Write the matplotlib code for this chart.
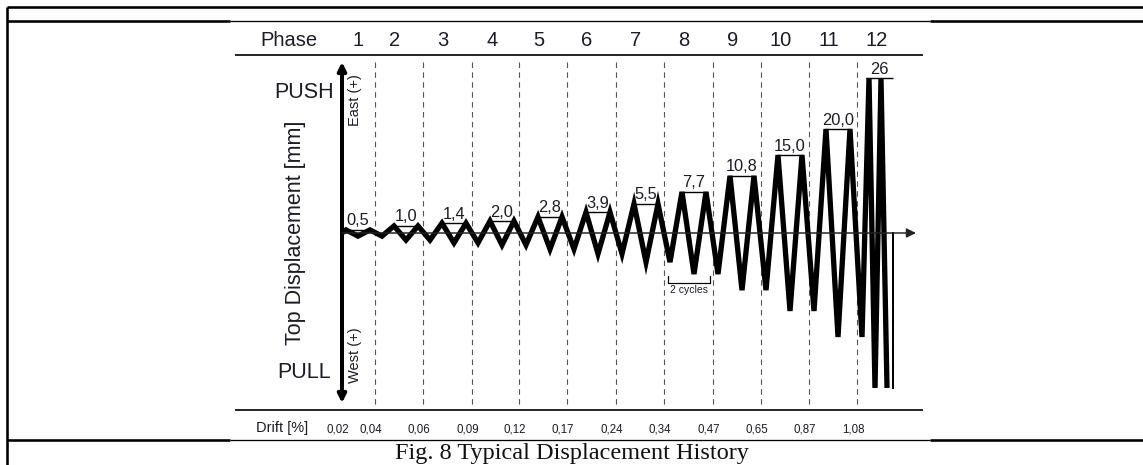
import matplotlib
matplotlib.use("Agg")
import matplotlib.pyplot as plt
import numpy as np

# ---------------- data ----------------
phases = ['1', '2', '3', '4', '5', '6', '7', '8', '9', '10', '11', '12']
amp_labels = ['0,5', '1,0', '1,4', '2,0', '2,8', '3,9', '5,5', '7,7', '10,8', '15,0', '20,0', '26']
# peak amplitudes as drawn in the (not-to-scale) sketch, in mm
drawn_amp = [0.6, 1.35, 1.9, 2.3, 3.1, 4.0, 5.6, 7.9, 11.0, 15.0, 20.0, 29.8]
drift = ['0,02', '0,04', '0,06', '0,09', '0,12', '0,17', '0,24', '0,34', '0,47', '0,65', '0,87', '1,08']

# ---------------- layout (pixel space) ----------------
W, H = 1143, 465
PX = 0.72  # points per pixel at dpi 100
fig = plt.figure(figsize=(W / 100, H / 100), dpi=100)
ax = fig.add_axes([0, 0, 1, 1])
ax.set_xlim(0, W)
ax.set_ylim(H, 0)
ax.axis('off')

SANS = 'Liberation Sans'
SERIF = 'Liberation Serif'
TXT = '#1c1c24'

y0 = 233          # zero displacement line
scale = 5.2       # px per mm
x_axis = 342
bounds = [342, 375, 423, 472, 519, 567, 616, 664, 713, 761, 809, 857, 900]

# ---- table borders ----
thick = 2.6 * PX
thin = 1.3 * PX
ax.plot([7, 7], [7, H], color='k', lw=thick, solid_capstyle='butt')
ax.plot([7, W], [7, 7], color='k', lw=thick, solid_capstyle='butt')
for yy in (21, 440):
    ax.plot([7, 230], [yy, yy], color='k', lw=thick, solid_capstyle='butt')
    ax.plot([230, 930], [yy, yy], color='k', lw=thin, solid_capstyle='butt')
    ax.plot([930, W], [yy, yy], color='k', lw=thick, solid_capstyle='butt')

# ---- header / footer rules ----
ax.plot([236, 922], [55, 55], color='#2a2a2a', lw=2.0 * PX)
ax.plot([236, 922], [410, 410], color='#2a2a2a', lw=2.0 * PX)

ax.text(289, 41, 'Phase', family=SANS, fontsize=14.5, color=TXT, ha='center', va='center')
for i, p in enumerate(phases):
    xc = (bounds[0] + bounds[1]) / 2 if i == 0 else bounds[i] + 20
    ax.text(xc, 41, p, family=SANS, fontsize=14.5, color=TXT, ha='center', va='center')

ax.text(282, 432, 'Drift [%]', family=SANS, fontsize=10.5, color=TXT, ha='center', va='baseline')
for i, d in enumerate(drift):
    xc = bounds[i] - 4
    ax.text(xc, 432, d, family=SANS, fontsize=8.3, color=TXT, ha='center', va='baseline')

# ---- dashed phase separators ----
for b in bounds[1:-1]:
    ax.plot([b, b], [62, 408], color='#555555', lw=1.1 * PX, linestyle=(0, (5, 4)))

# ---- axes arrows ----
ax.annotate('', xy=(x_axis, 62), xytext=(x_axis, y0),
            arrowprops=dict(arrowstyle='-|>', lw=4 * PX, color='k', mutation_scale=12, shrinkA=0, shrinkB=0))
ax.annotate('', xy=(x_axis, 403), xytext=(x_axis, y0),
            arrowprops=dict(arrowstyle='-|>', lw=4 * PX, color='k', mutation_scale=12, shrinkA=0, shrinkB=0))
ax.annotate('', xy=(916, y0), xytext=(x_axis, y0),
            arrowprops=dict(arrowstyle='-|>', lw=1.5 * PX, color='#222222', mutation_scale=14, shrinkA=0, shrinkB=0))

# ---- waveform ----
xs = [x_axis]
ys = [y0]
brackets = []
for i, a in enumerate(drawn_amp):
    if i < 11:
        first, step = 346 + 48 * i, 12
    else:
        first, step = 869, 6
    px = [first + step * j for j in range(4)]
    h = a * scale
    for j, xx in enumerate(px):
        xs.append(xx)
        ys.append(y0 - h if j % 2 == 0 else y0 + h)
    if i < 11:
        brackets.append((px[0] - 1, px[2] + 1, y0 - h))
    else:
        brackets.append((px[0] - 3, 893, y0 - h))
ax.plot(xs, ys, color='k', lw=5.3 * PX, solid_joinstyle='miter', solid_capstyle='butt')
# final return
ax.plot([893, 893], [y0, y0 + drawn_amp[-1] * scale], color='k', lw=2.0 * PX)

for (xa, xb, yb), lab in zip(brackets, amp_labels):
    ax.plot([xa, xb], [yb, yb], color='k', lw=1.4 * PX, solid_capstyle='butt')
    ax.text((xa + xb) / 2, yb - 1.5, lab, family=SANS, fontsize=11.8, color=TXT,
            ha='center', va='bottom')

# ---- 2 cycles bracket ----
ax.plot([668, 668, 710, 710], [276, 283, 283, 276], color='k', lw=1.2 * PX)
ax.text(689, 290, '2 cycles', family=SANS, fontsize=7.5, color=TXT, ha='center', va='center')

# ---- side labels ----
ax.text(304, 92, 'PUSH', family=SANS, fontsize=15.5, color=TXT, ha='center', va='center')
ax.text(304, 372, 'PULL', family=SANS, fontsize=15.5, color=TXT, ha='center', va='center')
ax.text(295, 233, 'Top Displacement [mm]', family=SANS, fontsize=15.5, color=TXT,
        ha='center', va='center', rotation=90)
ax.text(355, 100, 'East (+)', family=SANS, fontsize=10.5, color=TXT, ha='center', va='center', rotation=90)
ax.text(355, 355, 'West (+)', family=SANS, fontsize=10.5, color=TXT, ha='center', va='center', rotation=90)

# ---- caption ----
ax.text(572, 459, 'Fig. 8 Typical Displacement History', family=SERIF, fontsize=17.5,
        color='#111111', ha='center', va='baseline')

fig.savefig('out.png', dpi=100)
